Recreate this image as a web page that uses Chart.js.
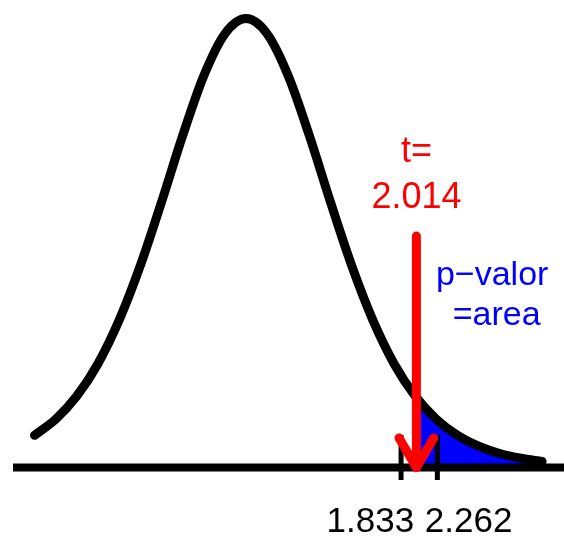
<!DOCTYPE html>
<html><head><meta charset="utf-8">
<script src="https://cdn.jsdelivr.net/npm/chart.js@4/dist/chart.umd.min.js"></script>
<style>html,body{margin:0;padding:0;background:#fff;overflow:hidden}canvas{display:block}</style>
</head><body>
<canvas id="c" width="564" height="537"></canvas>
<script>
// ---- data (t distribution curve, df = 9) ----
const tValues = [-2.5,-2.25,-2.0,-1.75,-1.5,-1.25,-1.0,-0.75,-0.5,-0.25,0,0.25,0.5,0.75,1.0,1.25,1.5,1.75,2.0,2.25,2.5,2.75,3.0,3.25,3.5];
const density = [0.0278,0.0417,0.0617,0.0897,0.1272,0.1743,0.2291,0.2866,0.3384,0.3748,0.3880,0.3748,0.3384,0.2866,0.2291,0.1743,0.1272,0.0897,0.0617,0.0417,0.0278,0.0184,0.0121,0.0080,0.0053];
const tailT = [2.014,2.25,2.5,2.75,3.0,3.25,3.5];
const tailDensity = [0.0604,0.0417,0.0278,0.0184,0.0121,0.0080,0.0053];
const criticalValues = [1.833, 2.262];
const criticalLabels = ["1.833", "2.262"];
const tStat = 2.014;
const tStatLabel = ["t=", "2.014"];
const pLabel = ["p\u2212valor", "=area"];

// ---- layout / style (not data) ----
const view = {xMin:-2.908, xMax:3.759, yMin:-0.0601, yMax:0.4041, baseFrom:-2.754, baseTo:3.9};
const tickSpan = {top:0.0281, bottom:-0.0108};
const arrowStyle = {top:0.2, headDx:0.205, headDy:0.0255};
const FONT = '"Liberation Sans", Arial, Helvetica, sans-serif';
const textStyle = {
  red:   {size:36, color:'#ff0000', x:2.016, y:[0.264, 0.2243]},
  blue:  {size:34, color:'#0000ff', x:[2.91, 2.963], y:[0.1577, 0.1232]},
  ticks: {size:35, color:'#000000', x:[1.47, 2.632], y:-0.0557}
};

const xy = (xs, ys) => xs.map((x,i)=>({x, y:ys[i]}));
const lineBase = {pointRadius:0, borderCapStyle:'butt', tension:0, fill:false, clip:false};

const datasets = [
  Object.assign({}, lineBase, {label:'arrow', data:[{x:tStat,y:arrowStyle.top},{x:tStat,y:0}], borderColor:'#ff0000', borderWidth:9, borderCapStyle:'round', order:1}),
  Object.assign({}, lineBase, {label:'head', data:[{x:tStat-arrowStyle.headDx,y:arrowStyle.headDy},{x:tStat,y:0},{x:tStat+arrowStyle.headDx,y:arrowStyle.headDy}], borderColor:'#ff0000', borderWidth:9, borderCapStyle:'round', borderJoinStyle:'round', order:1}),
  ...criticalValues.map(v => Object.assign({}, lineBase, {label:'tick'+v, data:[{x:v,y:tickSpan.top},{x:v,y:tickSpan.bottom}], borderColor:'#000', borderWidth:5, order:2})),
  Object.assign({}, lineBase, {label:'baseline', data:[{x:view.baseFrom,y:0},{x:view.baseTo,y:0}], borderColor:'#000', borderWidth:8, order:3}),
  Object.assign({}, lineBase, {label:'curve', data:xy(tValues, density), borderColor:'#000', borderWidth:9, borderCapStyle:'round', borderJoinStyle:'round', cubicInterpolationMode:'monotone', order:4}),
  Object.assign({}, lineBase, {label:'tail', data:xy(tailT, tailDensity), borderWidth:0, borderColor:'rgba(0,0,0,0)', backgroundColor:'#0000ff', fill:'origin', cubicInterpolationMode:'monotone', order:5})
];

const textPlugin = {
  id:'texts',
  afterDatasetsDraw(chart){
    const {ctx, scales:{x, y}} = chart;
    ctx.save();
    ctx.textAlign = 'center';
    ctx.textBaseline = 'alphabetic';
    const r = textStyle.red;
    ctx.fillStyle = r.color; ctx.font = r.size+'px '+FONT;
    tStatLabel.forEach((s,i)=>ctx.fillText(s, x.getPixelForValue(r.x), y.getPixelForValue(r.y[i])));
    const b = textStyle.blue;
    ctx.fillStyle = b.color; ctx.font = b.size+'px '+FONT;
    pLabel.forEach((s,i)=>ctx.fillText(s, x.getPixelForValue(b.x[i]), y.getPixelForValue(b.y[i])));
    const k = textStyle.ticks;
    ctx.fillStyle = k.color; ctx.font = k.size+'px '+FONT;
    criticalLabels.forEach((s,i)=>ctx.fillText(s, x.getPixelForValue(k.x[i]), y.getPixelForValue(k.y)));
    ctx.restore();
  }
};

new Chart(document.getElementById('c'), {
  type:'line',
  data:{datasets},
  options:{
    responsive:false, animation:false, devicePixelRatio:1,
    layout:{padding:0},
    plugins:{legend:{display:false}, tooltip:{enabled:false}},
    scales:{
      x:{type:'linear', min:view.xMin, max:view.xMax, display:false},
      y:{type:'linear', min:view.yMin, max:view.yMax, display:false}
    }
  },
  plugins:[textPlugin]
});
</script>
</body></html>
